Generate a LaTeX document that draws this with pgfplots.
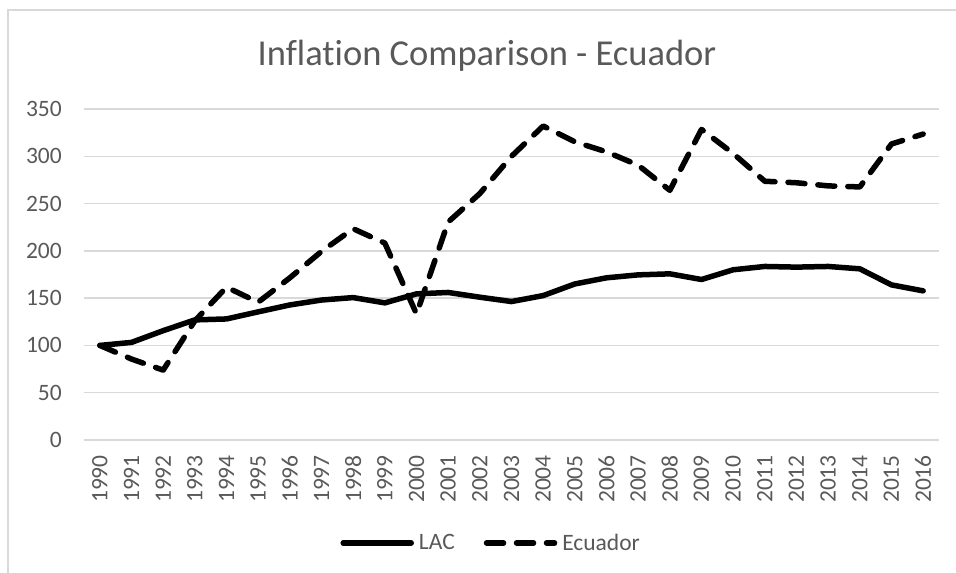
\documentclass[border=0pt]{standalone}
\usepackage{pgfplots}
\pgfplotsset{compat=1.18}
\usepackage{pgfplotstable}
\usepackage{fontspec}
\setmainfont{Carlito}[Ligatures=NoCommon]
\definecolor{txt}{HTML}{595959}
\definecolor{gridc}{HTML}{D9D9D9}
\pgfplotstableread{
year lac ecu
1990 100.0 100.0
1991 103.2 85.6
1992 115.6 73.9
1993 127.0 126.0
1994 128.0 161.6
1995 135.5 145.7
1996 142.8 171.5
1997 148.0 199.4
1998 150.6 223.4
1999 145.0 208.2
2000 154.5 133.3
2001 156.0 230.5
2002 151.0 260.6
2003 146.4 300.0
2004 152.7 332.0
2005 165.0 315.3
2006 171.5 304.7
2007 174.6 290.6
2008 175.7 264.0
2009 169.7 328.4
2010 180.0 303.0
2011 183.5 273.6
2012 182.8 272.0
2013 183.5 268.7
2014 181.0 267.6
2015 164.0 313.0
2016 157.7 323.5
}\datatable
\begin{document}
\begin{tikzpicture}[x=1pt,y=1pt]
\path[use as bounding box] (0,0) rectangle (956,573);
\draw[gridc, line width=1.2pt] (8,-10) -- (8,563) -- (970,563);
\node[txt, font=\fontsize{36.5}{40}\selectfont, anchor=base, inner sep=0pt] at (487,507) {Inflation Comparison - Ecuador};
\begin{axis}[
  at={(84pt,133pt)}, anchor=south west,
  scale only axis, width=855pt, height=331pt,
  xmin=1989.5, xmax=2016.5, ymin=0, ymax=350,
  xtick={1990,...,2016}, ytick={0,50,...,350},
  axis line style={draw=none},
  major tick length=0pt,
  ymajorgrids, grid style={gridc, line width=1.4pt},
  /pgf/number format/assume math mode=true,
  /pgf/number format/1000 sep={},
  tick label style={txt, font=\fontsize{23.5}{26}\selectfont},
  x tick label style={rotate=90, anchor=east, inner sep=0pt, xshift=0pt, yshift=0pt},
  xticklabel shift=15pt,
  y tick label style={anchor=east, inner sep=0pt, xshift=-22pt},
  legend columns=2,
  legend style={at={(0.478,-0.311)}, anchor=center, draw=none, fill=none,
    font=\fontsize{23.5}{26}\selectfont, text=txt,
    /tikz/every even column/.append style={column sep=24pt},
    inner sep=0pt, nodes={inner xsep=5pt, inner ysep=0pt}},
  legend image code/.code={\draw[#1] (0pt,0pt) -- (68pt,0pt);},
  clip=false,
]
\addplot[black, line width=5.5pt, line join=round, line cap=round] table[x=year, y=lac] {\datatable};
\addlegendentry{LAC}
\addplot[black, line width=5.5pt, line join=round, line cap=round, dash pattern=on 17pt off 13pt] table[x=year, y=ecu] {\datatable};
\addlegendentry{Ecuador}
\end{axis}
\end{tikzpicture}
\end{document}
